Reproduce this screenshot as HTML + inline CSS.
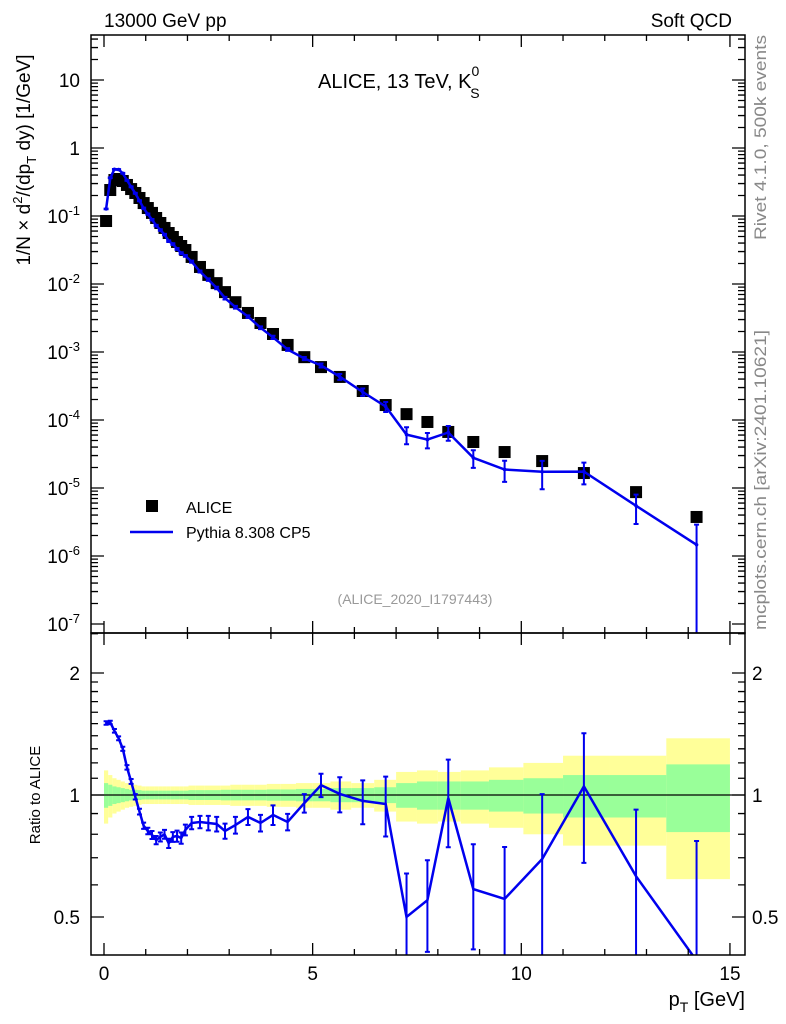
<!DOCTYPE html>
<html><head><meta charset="utf-8"><style>
html,body{margin:0;padding:0;background:#fff;width:786px;height:1024px;overflow:hidden;}
svg{display:block;font-family:"Liberation Sans",sans-serif;}
</style></head><body>
<svg id="chart" width="786" height="1024" viewBox="0 0 786 1024" xmlns="http://www.w3.org/2000/svg">
<defs>
<clipPath id="cm"><rect x="91" y="35" width="654" height="598"/></clipPath>
<clipPath id="cr"><rect x="91" y="633" width="654" height="322"/></clipPath>
</defs>
<g id="bands" clip-path="url(#cr)"></g>
<g id="ratio" clip-path="url(#cr)"></g>
<g id="main" clip-path="url(#cm)"></g>
<g id="axes"></g>
<text x="104" y="27" font-size="19">13000 GeV pp</text>
<text x="732" y="27" font-size="19" text-anchor="end">Soft QCD</text>
<text x="318" y="88" font-size="20">ALICE, 13 TeV, K<tspan font-size="14" dy="-12">0</tspan><tspan font-size="14" dx="-9" dy="22">S</tspan></text>
<text transform="translate(30,160) rotate(-90)" font-size="19" text-anchor="middle">1/N × d<tspan font-size="13" dy="-8">2</tspan><tspan dy="8">/(dp</tspan><tspan font-size="13" dy="6">T</tspan><tspan dy="-6"> dy) [1/GeV]</tspan></text>
<text transform="translate(40,795) rotate(-90)" font-size="15" text-anchor="middle">Ratio to ALICE</text>
<text x="745" y="1006" font-size="20" text-anchor="end">p<tspan font-size="14" dy="6">T</tspan><tspan dy="-6"> [GeV]</tspan></text>
<text transform="translate(766,240) rotate(-90)" font-size="17" fill="#888" textLength="205" lengthAdjust="spacingAndGlyphs">Rivet 4.1.0,  500k events</text>
<text transform="translate(766,630) rotate(-90)" font-size="17" fill="#888" textLength="300" lengthAdjust="spacingAndGlyphs">mcplots.cern.ch [arXiv:2401.10621]</text>
<text x="415" y="604" font-size="14" fill="#999" text-anchor="middle">(ALICE_2020_I1797443)</text>
<g>
<rect x="146" y="500" width="12" height="12" fill="#000"/>
<text x="186" y="513" font-size="16">ALICE</text>
<line x1="130" y1="532" x2="173" y2="532" stroke="#0000ee" stroke-width="2.5"/>
<text x="186" y="538" font-size="16">Pythia 8.308 CP5</text>
</g>
</svg>
<script>
const pT=[0.05,0.15,0.25,0.35,0.45,0.55,0.65,0.75,0.85,0.95,1.05,1.15,1.25,1.35,1.45,1.55,1.65,1.75,1.85,1.95,2.1,2.3,2.5,2.7,2.9,3.15,3.45,3.75,4.05,4.4,4.8,5.2,5.65,6.2,6.75,7.25,7.75,8.25,8.85,9.6,10.5,11.5,12.75,14.2];
const alice=[0.0844,0.241,0.338,0.350,0.327,0.286,0.249,0.218,0.184,0.155,0.131,0.111,0.0935,0.0789,0.0667,0.0562,0.0491,0.0415,0.0362,0.0316,0.0250,0.0178,0.0136,0.0103,0.0076,5.4e-3,3.75e-3,2.67e-3,1.84e-3,1.27e-3,8.4e-4,6.0e-4,4.3e-4,2.67e-4,1.66e-4,1.22e-4,9.35e-5,6.67e-5,4.75e-5,3.38e-5,2.49e-5,1.66e-5,8.7e-6,3.75e-6];
const ratio=[1.505,1.51,1.44,1.38,1.30,1.17,1.08,0.99,0.91,0.84,0.815,0.797,0.774,0.788,0.80,0.76,0.788,0.792,0.783,0.82,0.853,0.858,0.853,0.848,0.815,0.843,0.883,0.853,0.893,0.858,0.955,1.058,1.006,0.967,0.95,0.5,0.55,0.983,0.586,0.554,0.695,1.05,0.63,0.39];
const ratioErr=[0.015,0.015,0.015,0.015,0.015,0.015,0.015,0.015,0.015,0.015,0.015,0.018,0.018,0.02,0.02,0.02,0.022,0.025,0.025,0.025,0.03,0.03,0.035,0.035,0.035,0.04,0.04,0.04,0.05,0.04,0.05,0.07,0.1,0.12,0.16,0.14,0.14,0.24,0.17,0.19,0.31,0.37,0.29,0.38];
const totErr=[0.15,0.12,0.1,0.09,0.08,0.07,0.065,0.06,0.055,0.05,0.05,0.05,0.05,0.05,0.05,0.05,0.05,0.05,0.05,0.05,0.055,0.055,0.055,0.055,0.055,0.06,0.06,0.06,0.065,0.065,0.07,0.07,0.08,0.07,0.09,0.14,0.15,0.14,0.15,0.17,0.2,0.25,0.25,0.38];
const statErr=[0.07,0.06,0.05,0.045,0.04,0.035,0.03,0.03,0.028,0.025,0.025,0.025,0.025,0.025,0.025,0.025,0.025,0.025,0.025,0.025,0.028,0.028,0.028,0.028,0.03,0.03,0.03,0.03,0.032,0.032,0.035,0.035,0.04,0.04,0.045,0.07,0.08,0.08,0.08,0.09,0.1,0.12,0.12,0.19];
const xTicks=[0,5,10,15];
const ratioTickLabels=[0.5,1,2];

const NS="http://www.w3.org/2000/svg";
function X(p){return 104+41.73*p;}
function YM(v){return 80-68*(Math.log10(v)-1);}
function YR(r){return 795-122*Math.log2(r);}
function mk(tag,attrs,parent){const e=document.createElementNS(NS,tag);for(const k in attrs)e.setAttribute(k,attrs[k]);parent.appendChild(e);return e;}
const gB=document.getElementById('bands'),gR=document.getElementById('ratio'),gM=document.getElementById('main'),gA=document.getElementById('axes');
const n=pT.length;
function edgeL(i){return i===0?0:(pT[i-1]+pT[i])/2;}
function edgeR(i){return i===n-1?15:(pT[i]+pT[i+1])/2;}
for(let i=0;i<n;i++){
  const x0=X(edgeL(i)),x1=X(edgeR(i));
  const y=mk('rect',{x:x0,y:YR(1+totErr[i]),width:x1-x0,height:YR(1-totErr[i])-YR(1+totErr[i]),fill:'#ffff99'},gB);
  
  
}
for(let i=0;i<n;i++){
  const x0=X(edgeL(i)),x1=X(edgeR(i));
  const g=mk('rect',{x:x0,y:YR(1+statErr[i]),width:x1-x0,height:YR(1-statErr[i])-YR(1+statErr[i]),fill:'#99ff99'},gB);
  
  
}
const ref=mk('line',{x1:91,x2:745,y1:YR(1),y2:YR(1),stroke:'#000','stroke-width':1.2},gB);


let d='';
for(let i=0;i<n;i++){d+=(i?'L':'M')+X(pT[i]).toFixed(1)+','+YR(ratio[i]).toFixed(1);}
const rl=mk('path',{d:d,fill:'none',stroke:'#0000ee','stroke-width':2.5},gR);


for(let i=0;i<n;i++){
  const x=X(pT[i]),lo=Math.max(ratio[i]-ratioErr[i],0.01),hi=ratio[i]+ratioErr[i];
  const e=mk('path',{d:`M${x},${YR(hi)}V${YR(lo)}M${x-2.5},${YR(hi)}h5M${x-2.5},${YR(lo)}h5`,stroke:'#0000ee','stroke-width':2,fill:'none'},gR);
  
  
}
for(let i=0;i<n;i++){
  const m=mk('rect',{x:X(pT[i])-6,y:YM(alice[i])-6,width:12,height:12,fill:'#000'},gM);
  
  
}
let dm='';
for(let i=0;i<n;i++){dm+=(i?'L':'M')+X(pT[i]).toFixed(1)+','+YM(alice[i]*ratio[i]).toFixed(1);}
const ml=mk('path',{d:dm,fill:'none',stroke:'#0000ee','stroke-width':2.5},gM);


for(let i=0;i<n;i++){
  const x=X(pT[i]),v=alice[i]*ratio[i],e=alice[i]*ratioErr[i];
  const hi=v+e,lo=Math.max(v-e,1e-9);
  const eb=mk('path',{d:`M${x},${YM(hi)}V${YM(lo)}M${x-2.5},${YM(hi)}h5M${x-2.5},${YM(lo)}h5`,stroke:'#0000ee','stroke-width':2,fill:'none'},gM);
  
  
  const c=mk('circle',{cx:x,cy:YM(v),r:1.8,fill:'#0000ee'},gM);
  
  
}
const f1=mk('rect',{x:91,y:35,width:654,height:598,fill:'none',stroke:'#000','stroke-width':1.5},gA);


const f2=mk('rect',{x:91,y:633,width:654,height:322,fill:'none',stroke:'#000','stroke-width':1.5},gA);


let t='';
for(let p=0;p<=15;p++){
  const x=X(p),L=(p%5===0)?12:6;
  t+=`M${x},35v${L}M${x},633v${-L}M${x},633v${L}M${x},955v${-L}`;
}
for(let e=-7;e<=1;e++){
  for(let k=1;k<=9;k++){
    const v=k*Math.pow(10,e),y=YM(v);
    if(y<35||y>633)continue;
    const L=k===1?13:7;
    t+=`M91,${y}h${L}M745,${y}h${-L}`;
  }
}
for(let k=2;k<=9;k++){const y=YM(k*10);if(y>=35)t+=`M91,${y}h7M745,${y}h-7`;}
const rt=[0.4,0.5,0.6,0.7,0.8,0.9,1,1.1,1.2,1.3,1.4,1.5,1.6,1.7,1.8,1.9,2,2.5];
rt.forEach(r=>{const y=YR(r);if(y<633||y>955)return;const L=(r===0.5||r===1||r===2)?13:7;t+=`M91,${y}h${L}M745,${y}h${-L}`;});
const tk=mk('path',{d:t,stroke:'#000','stroke-width':1.3,fill:'none'},gA);


xTicks.forEach(p=>{
  const tl=mk('text',{x:X(p),y:980,'font-size':19,'text-anchor':'middle'},gA);
  tl.textContent=String(p);
  
  
});
for(let e=-7;e<=1;e++){
  const y=YM(Math.pow(10,e));
  const tl=mk('text',{x:80,y:y+7,'font-size':19,'text-anchor':'end'},gA);
  if(e===1)tl.textContent='10';
  else if(e===0)tl.textContent='1';
  else{tl.textContent='10';const s=document.createElementNS(NS,'tspan');s.setAttribute('font-size','13');s.setAttribute('dy','-8');s.textContent=String(e);tl.appendChild(s);}
  
  
}
ratioTickLabels.forEach(r=>{
  const y=YR(r);
  const a=mk('text',{x:80,y:y+7,'font-size':19,'text-anchor':'end'},gA);
  a.textContent=String(r);
  
  
  const b=mk('text',{x:752,y:y+7,'font-size':19},gA);
  b.textContent=String(r);
  
  
});
</script>
</body></html>
